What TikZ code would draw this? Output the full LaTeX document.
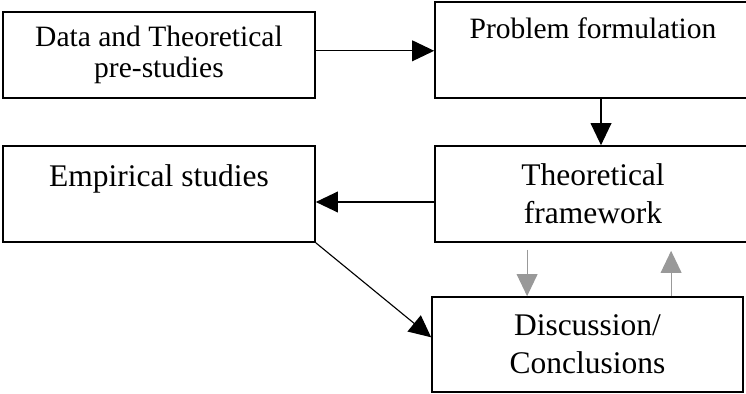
\documentclass[tikz,border=0pt]{standalone}
\usepackage{fontspec}
\setmainfont{Liberation Serif}
\usetikzlibrary{arrows.meta}

\tikzset{
  box/.style={draw, line width=1.2pt, inner sep=0pt, minimum width=7.8cm, align=center},
  smalltxt/.style={font=\fontsize{21pt}{21.8pt}\selectfont},
  bigtxt/.style={font=\fontsize{22.4pt}{27pt}\selectfont},
  blackarrow/.style={-{Triangle[length=0.55cm,width=0.52cm]}, line width=0.8pt},
  grayarrow/.style={blackarrow, draw=black!40, fill=black!40},
}

\begin{document}
\begin{tikzpicture}
\useasboundingbox (0,0) rectangle (18.65,-9.85);

% study boxes
\node[box, smalltxt, text height=0.925cm, text depth=1.475cm, minimum width=7.9cm] (problem) at (14.825,-1.25) {Problem formulation};
\node[box, smalltxt, minimum height=2.15cm] (data) at (3.975,-1.375) {Data and Theoretical\\pre-studies};
\node[box, bigtxt, minimum width=7.9cm, minimum height=2.4cm] (framework) at (14.825,-4.85) {Theoretical\\framework};
\node[box, bigtxt, text height=1.025cm, text depth=1.375cm] (empirical) at (3.975,-4.85) {Empirical studies};
\node[box, bigtxt, minimum width=7.775cm, minimum height=2.375cm] (discussion) at (14.6875,-8.6125) {Discussion/\\Conclusions};

% main flow
\draw[blackarrow] (data.east |- 0,-1.27) -- (problem.west |- 0,-1.27);
\draw[blackarrow] ([xshift=0.2cm]problem.south) -- ([xshift=0.2cm]framework.north);
\draw[blackarrow] ([yshift=-0.2cm]framework.west) -- ([yshift=-0.2cm]empirical.east);
\draw[blackarrow] (empirical.south east) -- ([yshift=0.18cm]discussion.west);

% feedback
\coordinate (down) at ([xshift=-1.51cm]discussion.north);
\coordinate (up) at ([xshift=2.09cm]discussion.north);
\draw[grayarrow, shorten <=0.175cm] (down |- framework.south) -- (down);
\draw[grayarrow, shorten >=0.2cm] (up) -- (up |- framework.south);

\end{tikzpicture}
\end{document}
